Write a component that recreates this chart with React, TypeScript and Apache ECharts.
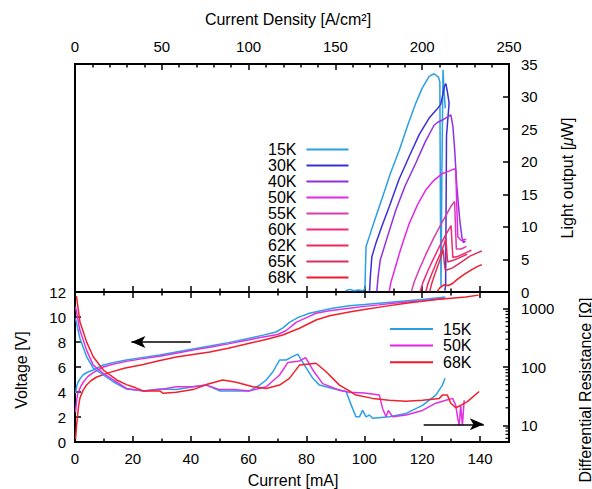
import React, { useEffect, useRef } from 'react';
import * as echarts from 'echarts';

// ---------- Top panel: light output [µW] vs current [mA] ----------
const TOP_NAMES = ['15K', '30K', '40K', '50K', '55K', '60K', '62K', '65K', '68K'];
const TOP_COLORS = ['#2a9fe2', '#3b2fd8', '#9030e0', '#e426e6', '#d93aaf', '#f02a78', '#f0285a', '#d8305e', '#f01a2a'];

const LIGHT_15K = [[93.5,0.2],[95,0.4],[96.5,0.2],[98,0.3],[99.5,0.2],[100.2,0.5],[100.4,4],[100.6,7.0],[101.7,8.5],[104,11.6],[106.3,14.6],[109,18.2],[112.1,21.8],[115,25.6],[117.8,29.0],[120,31.3],[122.4,33.1],[124.1,33.5],[125.6,33.0],[126.1,32.2],[126.3,12],[126.5,0.8],[126.8,18],[127.2,34.1],[127.6,30.5],[128,28.2]];
const LIGHT_30K = [[101.8,0.1],[102.1,2.5],[102.6,5.4],[104,7.5],[106,10],[108.6,13.1],[112,17.3],[115.5,20.8],[119,24.2],[122.4,26.7],[125,28.0],[126.4,28.8],[127.2,30.5],[127.7,31.6],[128.2,32.0],[128.8,30.5],[129.3,29.0],[128.4,24],[128.1,1],[127.8,0.2]];
const LIGHT_40K = [[104.3,0.1],[104.8,2.5],[105.5,4.9],[108,8.5],[110.9,12.6],[114,16.2],[117.8,19.8],[121,23],[124.1,25.6],[125.5,26.1],[127,26.4],[128.5,26.8],[129.9,27.2],[130.6,25.5],[131.2,22],[132,16],[133,11],[133.7,8.5],[134.2,7.6],[135,7.8]];
const LIGHT_50K = [[108.6,0.1],[109.2,1.5],[110.2,3],[112.5,6.5],[115.5,10.5],[118.5,13.5],[121.3,15.7],[124,17.1],[127,18.2],[129.5,18.6],[131,18.9],[131.6,18.7],[131.9,14],[132.3,8.5],[133.5,7.9],[135.2,8.1]];
const LIGHT_55K = [[116.3,0.1],[117.2,1.5],[119,3.5],[121.5,6],[124,8.3],[126.5,10.4],[128.5,12],[130,13.2],[131.2,13.9],[131.5,10],[131.8,6.6],[133.5,6.6],[135.3,7.0]];
const LIGHT_60K = [[119.3,0.1],[120.2,1.4],[122,3.3],[124,5.2],[126,7.0],[128,8.7],[129.5,9.8],[130,10.2],[130.3,7.5],[130.6,5.3],[132.5,5.5],[135,6.0],[137,6.4]];
const LIGHT_62K = [[121.3,0.1],[122,1.3],[123.5,3],[125,4.6],[126.5,6.1],[127.5,7.2],[128.2,8.2],[128.5,6.2],[128.8,4.6],[131,4.9],[133.5,5.4],[135.5,5.8]];
const LIGHT_65K = [[122.6,0.1],[123.3,1.3],[124.5,2.9],[125.8,4.5],[126.8,5.8],[127.3,6.5],[127.6,4.6],[128,3.3],[130.5,3.7],[133.5,4.6],[136.5,5.5],[139,6.0],[140.6,6.3]];
const LIGHT_68K = [[125.2,0.1],[126,0.6],[127.5,1.1],[129,1.0],[130.5,1.3],[132,1.9],[134.5,2.7],[137,3.4],[139,3.9],[140.6,4.2]];
const TOP_DATA = [LIGHT_15K, LIGHT_30K, LIGHT_40K, LIGHT_50K, LIGHT_55K, LIGHT_60K, LIGHT_62K, LIGHT_65K, LIGHT_68K];

// ---------- Bottom panel: voltage [V] and differential resistance [Ω] ----------
const BOTTOM_NAMES = ['15K', '50K', '68K'];
const BOTTOM_COLORS = ['#2aa0e8', '#e030e0', '#f0202c'];

const VOLT_15K = [[0.2,3.9],[0.6,4.5],[1.1,4.8],[2,5.15],[2.9,5.4],[4.5,5.6],[6.3,5.76],[9.8,6.16],[13,6.35],[17.8,6.56],[23,6.75],[29.3,6.96],[35,7.2],[40.8,7.44],[46.6,7.68],[53,7.95],[60.3,8.3],[65,8.55],[69.5,8.8],[72,9.15],[74.1,9.57],[77,9.95],[81,10.3],[85,10.5],[89,10.7],[94.8,10.9],[100,11.0],[105,11.1],[110,11.2],[115,11.3],[120,11.4],[124,11.5],[128,11.6]];
const VOLT_50K = [[0.2,2.4],[0.6,3.4],[1,3.9],[2,4.45],[2.9,4.8],[4.5,5.25],[6.3,5.55],[9.8,6.0],[13,6.22],[17.8,6.45],[23,6.65],[29.3,6.86],[35,7.1],[40.8,7.35],[46.6,7.58],[53,7.85],[60.3,8.18],[65,8.4],[70,8.6],[72.9,8.9],[76.4,9.57],[80,9.95],[83.3,10.3],[88,10.5],[94.8,10.7],[100,10.85],[105,10.97],[110,11.1],[115,11.2],[120,11.3],[124,11.4],[128,11.5]];
const VOLT_68K = [[0.2,0.24],[0.5,1.2],[0.8,1.9],[1.2,2.8],[1.7,3.5],[2.8,4.15],[4,4.56],[5.5,4.9],[7.5,5.2],[12.1,5.57],[17,5.9],[23.6,6.2],[29,6.5],[35,6.8],[40.8,7.0],[46.6,7.2],[53,7.5],[60.3,7.9],[66,8.2],[71.8,8.56],[77.6,9.1],[83.3,9.76],[88,10.1],[94.8,10.4],[100,10.6],[107,10.85],[114.4,11.1],[120,11.25],[125,11.4],[130,11.5],[135,11.6],[139.5,11.75]];

const RES_15K = [[0.2,684],[1.7,309],[4,151],[6.3,96],[9.8,73],[13.2,56],[17.8,42],[23.6,39],[29.3,42],[35,41],[40.8,46],[45.4,49],[50,39],[54.6,39],[60.3,39],[63.8,49],[66.1,60],[68.4,83],[70.7,132],[73,132],[75,149],[77,167],[79.3,108],[82.2,64],[84.5,49],[89,43],[93.7,38],[95.5,22],[97.1,14],[98.3,14],[99.4,18],[100.6,14],[101.7,15],[102.9,13.2],[108.6,14],[114.4,16],[120.1,22],[124.7,33],[127,49],[127.9,64]];
const RES_50K = [[0.2,1075],[1.7,427],[4,195],[6.3,108],[9.8,78],[13.2,60],[17.8,43],[23.6,39],[29.3,41],[35,46],[40.8,46],[45.4,49],[50,41],[55,41],[60.3,39],[66.1,46],[70.7,73],[73.6,120],[77.6,127],[79.7,145],[82.2,89],[85.6,52],[91.4,40],[94.8,37],[100,36],[105.2,33],[106.3,19.5],[107.5,14],[108.3,18],[109.8,14],[114.4,15],[120.1,18],[124.7,24],[128.2,27],[130.5,29],[131.6,22],[132.3,13],[132.8,10],[133.3,22],[133.9,10],[134.5,27]];
const RES_68K = [[0.5,1650],[1.7,600],[4,270],[6.3,150],[9.8,89],[14.4,60],[17.8,50],[21,44],[23.6,39],[29.3,39],[30.5,35.5],[35,37],[40.8,41],[45.4,50],[51.1,60],[55.7,55],[61.5,46],[66.1,43],[70.7,49],[74.1,64],[77.6,108],[81,113],[83.3,116],[86.8,83],[91.4,49],[94.8,39],[97.1,33],[102.9,29],[108.6,27],[114.4,26],[120.1,27],[125.9,29],[127,33],[128.7,33],[129.9,24],[131.6,20],[133.3,22],[135.6,25.5],[139.7,38]];

const VOLT_DATA = [VOLT_15K, VOLT_50K, VOLT_68K];
const RES_DATA = [RES_15K, RES_50K, RES_68K];

// Arrows pointing to the relevant axis
const LEFT_ARROW = [[40, 8], [19.5, 8]];
const RIGHT_ARROW = [[120.5, 10.4], [141.3, 10.4]];

// Minor ticks of the logarithmic resistance axis
const LOG_MINOR_TICKS = [6, 7, 8, 9, 20, 30, 40, 50, 60, 70, 80, 90, 200, 300, 400, 500, 600, 700, 800, 900];

const FONT = "'Liberation Sans', Arial, Helvetica, sans-serif";
const FS_TICK = 15;
const FS_TITLE = 16;
const FS_LEGEND = 16;

export default function App() {
  const ref = useRef<HTMLDivElement>(null);

  useEffect(() => {
    if (!ref.current) return;
    const chart = echarts.init(ref.current, null, { renderer: 'svg' });

    const tickStyle = { color: '#000', width: 1.5 };
    const labelStyle = { color: '#000', fontSize: FS_TICK, fontFamily: FONT };
    const noLine = { show: false, onZero: false };

    const topSeries = TOP_DATA.map((d, i) => ({
      type: 'line',
      name: TOP_NAMES[i],
      xAxisIndex: 1,
      yAxisIndex: 0,
      data: d,
      symbol: 'none',
      color: TOP_COLORS[i],
      lineStyle: { color: TOP_COLORS[i], width: 1.5 },
      silent: true,
      z: 2,
    }));

    const arrowMark = (pts: number[][]) => ({
      silent: true,
      symbol: ['none', 'arrow'],
      symbolSize: [9, 14],
      label: { show: false },
      lineStyle: { color: '#000', width: 1.5, type: 'solid' },
      emphasis: { disabled: true },
      data: [[{ coord: pts[0] }, { coord: pts[1] }]],
    });

    const voltSeries = VOLT_DATA.map((d, i) => ({
      type: 'line',
      name: BOTTOM_NAMES[i],
      xAxisIndex: 2,
      yAxisIndex: 1,
      data: d,
      symbol: 'none',
      color: BOTTOM_COLORS[i],
      lineStyle: { color: BOTTOM_COLORS[i], width: 1.5 },
      silent: true,
      z: 2,
      ...(i === 2 ? { markLine: arrowMark(LEFT_ARROW) } : {}),
    }));

    const resSeries = RES_DATA.map((d, i) => ({
      type: 'line',
      name: BOTTOM_NAMES[i],
      xAxisIndex: 2,
      yAxisIndex: 2,
      data: d,
      symbol: 'none',
      color: BOTTOM_COLORS[i],
      lineStyle: { color: BOTTOM_COLORS[i], width: 1.5 },
      silent: true,
      z: 2,
      ...(i === 2 ? { markLine: arrowMark(RIGHT_ARROW) } : {}),
    }));

    const minorTickSeries = {
      type: 'custom',
      xAxisIndex: 2,
      yAxisIndex: 2,
      silent: true,
      clip: false,
      z: 5,
      data: LOG_MINOR_TICKS.map((v) => [0, v]),
      renderItem: (params: any, api: any) => {
        const cs = params.coordSys;
        const y = api.coord([0, api.value(1)])[1];
        const xr = cs.x + cs.width;
        return {
          type: 'line',
          shape: { x1: xr - 3.5, y1: y, x2: xr, y2: y },
          style: { stroke: '#000', lineWidth: 1.2 },
        };
      },
    };

    const textStyleBase = { fill: '#000', fontSize: FS_TITLE, fontFamily: FONT, align: 'center', verticalAlign: 'middle' };

    const option: any = {
      animation: false,
      backgroundColor: '#fff',
      grid: [
        { left: 75, top: 64, width: 434, height: 228, show: true, borderColor: '#000', borderWidth: 2, backgroundColor: 'transparent' },
        { left: 75, top: 292, width: 434, height: 150, show: true, borderColor: '#000', borderWidth: 2, backgroundColor: 'transparent' },
      ],
      xAxis: [
        {
          gridIndex: 0, type: 'value', position: 'top', min: 0, max: 250, interval: 50,
          axisLine: noLine,
          axisTick: { show: true, inside: true, length: 6, lineStyle: tickStyle },
          minorTick: { show: true, splitNumber: 5, length: 3.5, lineStyle: tickStyle },
          axisLabel: { ...labelStyle, margin: 10 },
          splitLine: { show: false },
        },
        {
          gridIndex: 0, type: 'value', position: 'bottom', min: 0, max: 150, interval: 20,
          axisLine: noLine,
          axisTick: { show: true, inside: true, length: 6, lineStyle: tickStyle },
          minorTick: { show: true, splitNumber: 2, length: 3.5, lineStyle: tickStyle },
          axisLabel: { show: false },
          splitLine: { show: false },
        },
        {
          gridIndex: 1, type: 'value', position: 'bottom', min: 0, max: 150, interval: 20,
          axisLine: noLine,
          axisTick: { show: true, inside: true, length: 6, lineStyle: tickStyle },
          minorTick: { show: true, splitNumber: 2, length: 3.5, lineStyle: tickStyle },
          axisLabel: { ...labelStyle, margin: 9, showMaxLabel: false },
          splitLine: { show: false },
        },
        {
          gridIndex: 1, type: 'value', position: 'top', min: 0, max: 150, interval: 20,
          axisLine: noLine,
          axisTick: { show: true, inside: true, length: 6, lineStyle: tickStyle },
          minorTick: { show: true, splitNumber: 2, length: 3.5, lineStyle: tickStyle },
          axisLabel: { show: false },
          splitLine: { show: false },
        },
      ],
      yAxis: [
        {
          gridIndex: 0, type: 'value', position: 'right', min: 0, max: 35, interval: 5,
          axisLine: noLine,
          axisTick: { show: true, inside: true, length: 6, lineStyle: tickStyle },
          axisLabel: { ...labelStyle, margin: 12 },
          splitLine: { show: false },
        },
        {
          gridIndex: 1, type: 'value', position: 'left', min: 0, max: 12, interval: 2,
          axisLine: noLine,
          axisTick: { show: true, inside: true, length: 6, lineStyle: tickStyle },
          axisLabel: { ...labelStyle, margin: 9 },
          splitLine: { show: false },
        },
        {
          gridIndex: 1, type: 'log', logBase: 10, position: 'right', min: 5.18, max: 1936,
          axisLine: noLine,
          axisTick: { show: true, inside: true, length: 6, lineStyle: tickStyle },
          axisLabel: {
            ...labelStyle, margin: 12, showMinLabel: false, showMaxLabel: false,
            formatter: (v: number) => String(Math.round(v)),
          },
          splitLine: { show: false },
        },
      ],
      legend: [
        {
          data: TOP_NAMES,
          orient: 'vertical',
          align: 'right',
          left: 268,
          top: 141.5,
          padding: 0,
          itemGap: 0,
          itemWidth: 42,
          itemHeight: 2,
          icon: 'rect',
          selectedMode: false,
          textStyle: { color: '#000', fontSize: FS_LEGEND, fontFamily: FONT, lineHeight: 15.5, padding: [0, 5, 0, 0] },
        },
        {
          data: BOTTOM_NAMES,
          orient: 'vertical',
          left: 390,
          top: 320.7,
          padding: 0,
          itemGap: 0,
          itemWidth: 43,
          itemHeight: 2,
          icon: 'rect',
          selectedMode: false,
          textStyle: { color: '#000', fontSize: FS_LEGEND, fontFamily: FONT, lineHeight: 16.6, padding: [0, 0, 0, 5] },
        },
      ],
      graphic: [
        { type: 'text', x: 288, y: 19, silent: true, style: { ...textStyleBase, text: 'Current Density [A/cm²]' } },
        { type: 'text', x: 293, y: 480, silent: true, style: { ...textStyleBase, text: 'Current [mA]' } },
        { type: 'text', x: 21, y: 370, rotation: Math.PI / 2, silent: true, style: { ...textStyleBase, text: 'Voltage [V]' } },
        {
          type: 'text', x: 567, y: 178, rotation: Math.PI / 2, silent: true,
          style: { ...textStyleBase, text: 'Light output [{i|μ}W]', rich: { i: { fontStyle: 'italic', fontSize: FS_TITLE, fontFamily: FONT, fill: '#000' } } },
        },
        { type: 'text', x: 585, y: 390, rotation: Math.PI / 2, silent: true, style: { ...textStyleBase, text: 'Differential Resistance [Ω]' } },
      ],
      series: [...topSeries, ...voltSeries, ...resSeries, minorTickSeries],
    };

    chart.setOption(option);
    return () => chart.dispose();
  }, []);

  return <div ref={ref} style={{ position: 'absolute', left: 0, top: 0, width: 592, height: 489 }} />;
}
